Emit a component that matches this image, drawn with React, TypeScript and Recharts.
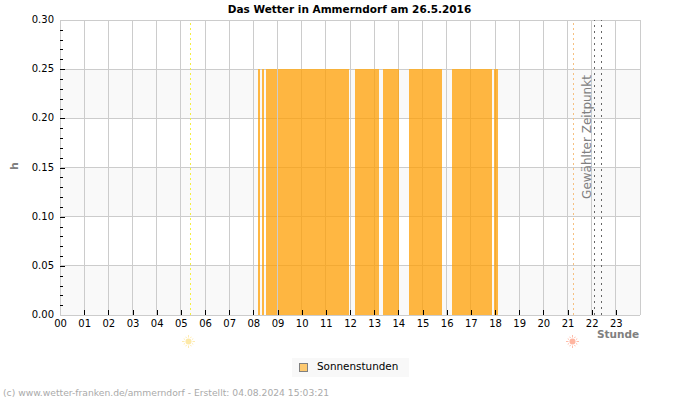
import { Area, CartesianGrid, ComposedChart, ReferenceLine, XAxis, YAxis } from 'recharts';

const FONT = '"DejaVu Sans", sans-serif';

const hourTicks = [0, 1, 2, 3, 4, 5, 6, 7, 8, 9, 10, 11, 12, 13, 14, 15, 16, 17, 18, 19, 20, 21, 22, 23, 24];
const valueTicks = [0, 0.01, 0.02, 0.03, 0.04, 0.05, 0.06, 0.07, 0.08, 0.09, 0.1, 0.11, 0.12, 0.13, 0.14, 0.15, 0.16, 0.17, 0.18, 0.19, 0.2, 0.21, 0.22, 0.23, 0.24, 0.25, 0.26, 0.27, 0.28, 0.29, 0.3];
const gridValues = [0, 0.05, 0.1, 0.15, 0.2, 0.25, 0.3];

// sunshine periods, in hours of the day
const sunStart = [8.18, 8.35, 8.53, 12.19, 13.35, 14.43, 16.21, 17.94];
const sunEnd = [8.26, 8.43, 11.94, 13.19, 14.02, 15.79, 17.86, 18.11];
const sunValue = 0.25;

const sunrise = 5.39;
const sunset = 21.23;
const selectedFrom = 22.1;
const selectedTo = 22.39;
const firstFullHour = 9;

const seriesName = 'Sonnenstunden';

// a null row after each period keeps the areas separate
const rows = sunStart.flatMap((start, i) => [
  { t: start, sun: sunValue },
  { t: sunEnd[i], sun: sunValue },
  { t: sunEnd[i], sun: null },
]);

function HourTick({ x, y, payload }: any) {
  if (payload.value === 24) return null;
  const px = Math.round(x) + 0.5;
  return (
    <g>
      {payload.value > 0 && <line x1={px} x2={px} y1={y - 5} y2={y} stroke="#000" />}
      <text x={x + 0.5} y={y + 12} textAnchor="middle" fontSize={10} fontFamily={FONT} fill="#000">
        {String(payload.value).padStart(2, '0')}
      </text>
    </g>
  );
}

function ValueTick({ x, y, payload }: any) {
  const hundredths = Math.round(payload.value * 100);
  const major = hundredths % 5 === 0;
  const edge = hundredths === 0 || hundredths === 30;
  const py = Math.round(y) + 0.5;
  return (
    <g>
      {!edge && <line x1={x} x2={x + (major ? 5 : 3)} y1={py} y2={py} stroke="#000" />}
      {major && (
        <text x={x - 6} y={y + 3} textAnchor="end" fontSize={10} fontFamily={FONT} fill="#000">
          {payload.value.toFixed(2)}
        </text>
      )}
    </g>
  );
}

function Sun({ viewBox, color, dx }: any) {
  const cx = Math.round(viewBox.x) + dx + 0.5;
  const cy = viewBox.y + viewBox.height + 26.5;
  const rays = [0, 30, 60, 90, 120, 150, 180, 210, 240, 270, 300, 330];
  return (
    <g>
      {rays.map((a) => (
        <line
          key={a}
          x1={cx + 4 * Math.cos((a * Math.PI) / 180)}
          y1={cy + 4 * Math.sin((a * Math.PI) / 180)}
          x2={cx + (a % 90 === 0 ? 6.5 : 5.5) * Math.cos((a * Math.PI) / 180)}
          y2={cy + (a % 90 === 0 ? 6.5 : 5.5) * Math.sin((a * Math.PI) / 180)}
          stroke={color}
          strokeWidth={0.9}
        />
      ))}
      <circle cx={cx} cy={cy} r={3} fill={color} />
    </g>
  );
}

function SelectedLabel({ viewBox }: any) {
  const x = viewBox.x - 3;
  const y = 137;
  return (
    <text
      x={x}
      y={y}
      transform={`rotate(-90 ${x} ${y})`}
      textAnchor="middle"
      fontSize={12}
      fontFamily={FONT}
      fill="#808080"
    >
      Gewählter Zeitpunkt
    </text>
  );
}

export default function App() {
  return (
    <div style={{ position: 'fixed', left: 0, top: 0, width: 700, height: 400, background: '#fff', fontFamily: FONT }}>
      <ComposedChart width={700} height={400} data={rows} margin={{ top: 20, right: 60, bottom: 0, left: 0 }}>
        <CartesianGrid
          stroke="#cccccc"
          shapeRendering="crispEdges"
          horizontalValues={gridValues}
          verticalValues={hourTicks}
          horizontalFill={['#ffffff', '#f9f9f9']}
        />
        <XAxis
          type="number"
          dataKey="t"
          domain={[0, 24]}
          ticks={hourTicks}
          interval={0}
          height={85}
          axisLine={false}
          tickLine={false}
          tickSize={0}
          tickMargin={0}
          tick={<HourTick />}
        />
        <YAxis
          domain={[0, 0.3]}
          ticks={valueTicks}
          interval={0}
          width={60}
          axisLine={false}
          tickLine={false}
          tickSize={0}
          tickMargin={0}
          tick={<ValueTick />}
        />
        <Area
          dataKey="sun"
          name={seriesName}
          type="linear"
          stroke="#f7b23b"
          fill="#ff9e00"
          fillOpacity={0.74}
          shapeRendering="crispEdges"
          dot={false}
          activeDot={false}
          isAnimationActive={false}
        />
        <ReferenceLine x={firstFullHour} stroke="#cccccc" shapeRendering="crispEdges" />
        <ReferenceLine
          x={sunrise}
          stroke="#f5ee40"
          strokeDasharray="2 3"
          shapeRendering="crispEdges"
          label={<Sun color="#fde9a8" dx={-2} />}
        />
        <ReferenceLine
          x={sunset}
          stroke="#f6c080"
          strokeDasharray="2 3"
          shapeRendering="crispEdges"
          label={<Sun color="#ffb5a0" dx={-1} />}
        />
        <ReferenceLine x={selectedFrom} stroke="#666" strokeDasharray="2 4" shapeRendering="crispEdges" label={<SelectedLabel />} />
        <ReferenceLine x={selectedTo} stroke="#666" strokeDasharray="2 4" shapeRendering="crispEdges" />
      </ComposedChart>

      <div style={{ position: 'absolute', left: 0, width: 699, top: 3, textAlign: 'center', fontSize: 10.5, lineHeight: '13px', fontWeight: 'bold', color: '#000' }}>
        Das Wetter in Ammerndorf am 26.5.2016
      </div>
      <div style={{ position: 'absolute', left: 11, top: 160, fontSize: 11, lineHeight: '12px', fontWeight: 'bold', color: '#808080', transform: 'rotate(-90deg)' }}>
        h
      </div>
      <div style={{ position: 'absolute', left: 597, top: 328, fontSize: 10.5, lineHeight: '13px', fontWeight: 'bold', color: '#808080' }}>
        Stunde
      </div>
      <div style={{ position: 'absolute', left: 292, top: 358, width: 117, height: 19, background: '#f8f8f8' }}>
        <div style={{ position: 'absolute', left: 7, top: 5, width: 7, height: 7, background: '#fdc96f', border: '1px solid #808080' }} />
        <div style={{ position: 'absolute', left: 25, top: 2, fontSize: 10.4, lineHeight: '13px', color: '#000' }}>{seriesName}</div>
      </div>
      <div style={{ position: 'absolute', left: 3, top: 387, fontSize: 9.2, lineHeight: '12px', color: '#aaaaaa', whiteSpace: 'nowrap' }}>
        (c) www.wetter-franken.de/ammerndorf - Erstellt: 04.08.2024 15:03:21
      </div>
    </div>
  );
}
